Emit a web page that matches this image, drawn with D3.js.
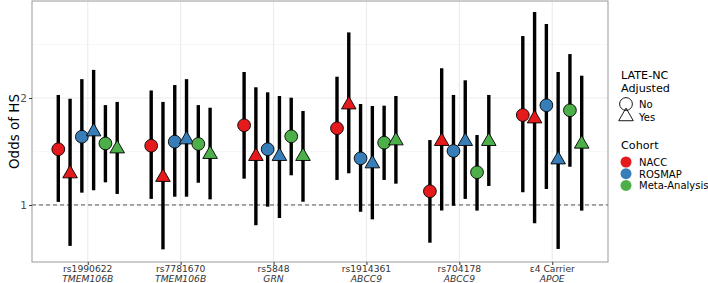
<!DOCTYPE html>
<html>
<head>
<meta charset="utf-8">
<script src="https://cdn.jsdelivr.net/npm/d3@7"></script>
<style>
  body { margin: 0; background: #fff; }
  text { font-family: "DejaVu Sans", sans-serif; }
</style>
</head>
<body>
<script>
const width = 708;
const height = 283;

const snps = ['rs1990622', 'rs7781670', 'rs5848', 'rs1914361', 'rs704178', 'ε4 Carrier'];
const genes = ['TMEM106B', 'TMEM106B', 'GRN', 'ABCC9', 'ABCC9', 'APOE'];
const cohorts = ['NACC', 'ROSMAP', 'Meta-Analysis'];
const adjusted = ['No', 'Yes'];
const yTicks = [1, 2];

// [odds ratio, lower CI, upper CI] per SNP
const naccNo = [[1.435, 1.02, 2.04], [1.468, 1.04, 2.10], [1.676, 1.186, 2.367], [1.644, 1.176, 2.296], [1.093, 0.783, 1.523], [1.791, 1.086, 2.988]];
const naccYes = [[1.225, 0.767, 1.99], [1.197, 0.75, 1.95], [1.371, 0.877, 2.144], [1.915, 1.228, 3.06], [1.511, 0.964, 2.425], [1.749, 0.888, 3.49]];
const rosmapNo = [[1.556, 1.083, 2.26], [1.507, 1.055, 2.175], [1.435, 0.989, 2.075], [1.353, 0.957, 1.924], [1.419, 0.995, 2.04], [1.908, 1.109, 3.23]];
const rosmapYes = [[1.608, 1.10, 2.40], [1.527, 1.055, 2.26], [1.371, 0.919, 2.026], [1.307, 0.911, 1.899], [1.511, 1.04, 2.243], [1.341, 0.752, 2.367]];
const metaNo = [[1.49, 1.158, 1.91], [1.485, 1.155, 1.91], [1.56, 1.212, 2.004], [1.497, 1.176, 1.903], [1.236, 0.964, 1.574], [1.847, 1.281, 2.659]];
const metaYes = [[1.44, 1.074, 1.95], [1.389, 1.037, 1.878], [1.371, 1.021, 1.839], [1.517, 1.148, 2.026], [1.511, 1.131, 2.04], [1.485, 0.964, 2.311]];

const seriesList = [
    { cohort: 'NACC', adj: 'No', values: naccNo },
    { cohort: 'NACC', adj: 'Yes', values: naccYes },
    { cohort: 'ROSMAP', adj: 'No', values: rosmapNo },
    { cohort: 'ROSMAP', adj: 'Yes', values: rosmapYes },
    { cohort: 'Meta-Analysis', adj: 'No', values: metaNo },
    { cohort: 'Meta-Analysis', adj: 'Yes', values: metaYes }
];

const rows = [];
seriesList.forEach((s, si) => {
    s.values.forEach((v, i) => {
        rows.push({ snp: snps[i], key: si, cohort: s.cohort, adj: s.adj, or: v[0], lo: v[1], hi: v[2] });
    });
});

const panel = { left: 32, right: 608, top: 1, bottom: 262 };

const color = d3.scaleOrdinal()
    .domain(cohorts)
    .range(['#E41A1C', '#377EB8', '#4DAF4A']);

const x = d3.scalePoint()
    .domain(snps)
    .range([panel.left, panel.right])
    .padding(0.6);

const dodge = d3.scalePoint()
    .domain(d3.range(seriesList.length))
    .range([-x.step() * 0.317, x.step() * 0.317]);

const y = d3.scaleLog()
    .domain([0.691, 3.75])
    .range([panel.bottom, panel.top]);

const svg = d3.select('body')
    .append('svg')
    .attr('width', width)
    .attr('height', height);

// grid
const grid = svg.append('g');
grid.selectAll('line.minor')
    .data([Math.SQRT2, 2 * Math.SQRT2])
    .enter().append('line')
    .attr('x1', panel.left).attr('x2', panel.right)
    .attr('y1', d => y(d)).attr('y2', d => y(d))
    .style('stroke', '#f3f3f3').style('stroke-width', 0.7);
grid.selectAll('line.majorY')
    .data(yTicks)
    .enter().append('line')
    .attr('x1', panel.left).attr('x2', panel.right)
    .attr('y1', d => y(d)).attr('y2', d => y(d))
    .style('stroke', '#ebebeb').style('stroke-width', 1.1);
grid.selectAll('line.majorX')
    .data(snps)
    .enter().append('line')
    .attr('x1', d => x(d)).attr('x2', d => x(d))
    .attr('y1', panel.top).attr('y2', panel.bottom)
    .style('stroke', '#ebebeb').style('stroke-width', 1.1);

// reference line at OR = 1
svg.append('line')
    .attr('x1', panel.left).attr('x2', panel.right)
    .attr('y1', y(1)).attr('y2', y(1))
    .style('stroke', '#555')
    .style('stroke-width', 1)
    .style('stroke-dasharray', '4,3');

// error bars
svg.append('g')
    .selectAll('line')
    .data(rows)
    .enter().append('line')
    .attr('x1', d => x(d.snp) + dodge(d.key))
    .attr('x2', d => x(d.snp) + dodge(d.key))
    .attr('y1', d => y(d.lo))
    .attr('y2', d => y(d.hi))
    .style('stroke', '#000')
    .style('stroke-width', 3.4);

const symbolOf = adj => adj === 'No' ? d3.symbol().type(d3.symbolCircle).size(128) : d3.symbol().type(d3.symbolTriangle).size(92);

// points
svg.append('g')
    .selectAll('path')
    .data(rows)
    .enter().append('path')
    .attr('transform', d => `translate(${x(d.snp) + dodge(d.key)},${y(d.or)})`)
    .attr('d', d => symbolOf(d.adj)())
    .style('fill', d => color(d.cohort))
    .style('stroke', '#000')
    .style('stroke-width', 0.9);

// panel border
svg.append('rect')
    .attr('x', panel.left).attr('y', panel.top)
    .attr('width', panel.right - panel.left)
    .attr('height', panel.bottom - panel.top)
    .style('fill', 'none')
    .style('stroke', '#999')
    .style('stroke-width', 1);

// y axis
const yAxis = svg.append('g')
    .attr('transform', `translate(${panel.left},0)`)
    .call(d3.axisLeft(y).tickValues(yTicks).tickFormat(d3.format('d')).tickSize(3).tickPadding(2));
yAxis.select('.domain').remove();
yAxis.selectAll('line').style('stroke', '#333');
yAxis.selectAll('text').style('font-size', '10.5px').style('fill', '#4d4d4d');

// x axis
const xAxis = svg.append('g')
    .attr('transform', `translate(0,${panel.bottom})`)
    .call(d3.axisBottom(x).tickSize(3).tickFormat(''));
xAxis.select('.domain').remove();
xAxis.selectAll('line').style('stroke', '#333');

// two-line tick labels: SNP and gene
const xLab = svg.append('g')
    .style('font-size', '9.2px')
    .style('fill', '#333');
xLab.selectAll('text.snp')
    .data(snps)
    .enter().append('text')
    .attr('x', d => x(d))
    .attr('y', 271.5)
    .attr('text-anchor', 'middle')
    .text(d => d);
xLab.selectAll('text.gene')
    .data(genes)
    .enter().append('text')
    .attr('x', (d, i) => x(snps[i]))
    .attr('y', 282.3)
    .attr('text-anchor', 'middle')
    .style('font-style', 'italic')
    .text(d => d);

svg.append('text')
    .attr('transform', `translate(19,${(panel.top + panel.bottom) / 2}) rotate(-90)`)
    .attr('text-anchor', 'middle')
    .style('font-size', '13.5px')
    .style('fill', '#000')
    .text('Odds of HS');

// legends
const lx = 621;
const leg = svg.append('g');
leg.append('text').attr('x', lx).attr('y', 78.8).style('font-size', '11.2px').text('LATE-NC');
leg.append('text').attr('x', lx).attr('y', 92).style('font-size', '11.2px').text('Adjusted');

adjusted.forEach((a, i) => {
    const cy = 104 + i * 12.5;
    leg.append('path')
        .attr('transform', `translate(626,${cy})`)
        .attr('d', symbolOf(a)())
        .style('fill', 'none')
        .style('stroke', '#000')
        .style('stroke-width', 0.9);
    leg.append('text')
        .attr('x', 639).attr('y', cy + 4)
        .style('font-size', '10px')
        .text(a);
});

leg.append('text').attr('x', lx).attr('y', 148.5).style('font-size', '11.2px').text('Cohort');
cohorts.forEach((c, i) => {
    const cy = 162 + i * 11.7;
    leg.append('circle')
        .attr('cx', 626).attr('cy', cy).attr('r', 5.5)
        .style('fill', color(c));
    leg.append('text')
        .attr('x', 639).attr('y', cy + 4)
        .style('font-size', '10px')
        .text(c);
});
</script>
</body>
</html>
